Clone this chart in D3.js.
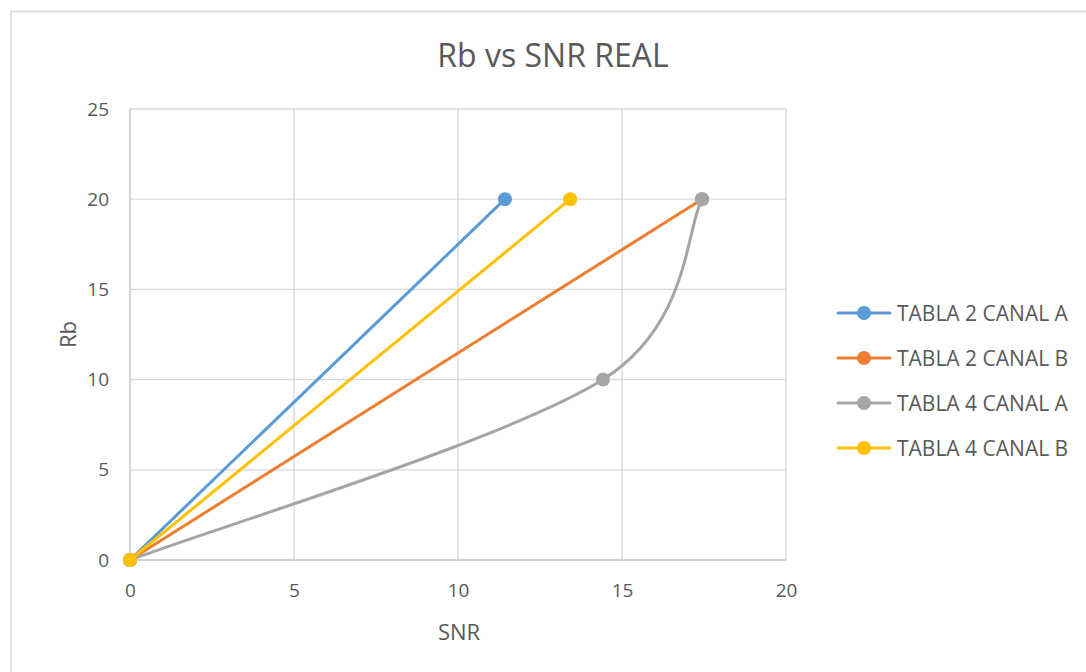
<!DOCTYPE html>
<html>
<head>
<meta charset="utf-8">
<script src="https://cdn.jsdelivr.net/npm/d3@7"></script>
<style>
  body { margin: 0; background: #fff; }
  text { font-family: "Open Sans", "Noto Sans", sans-serif; fill: #595959; }
</style>
</head>
<body>
<div id="viz"></div>
<script>
const width = 1086;
const height = 672;
const margin = {top: 109, right: 300, bottom: 112, left: 130};

// Data
const seriesNames = ['TABLA 2 CANAL A', 'TABLA 2 CANAL B', 'TABLA 4 CANAL A', 'TABLA 4 CANAL B'];
const seriesColors = ['#5b9bd5', '#ed7d31', '#a5a5a5', '#ffc000'];
const tabla2CanalA = [[0, 0], [11.43, 20]];
const tabla2CanalB = [[0, 0], [17.44, 20]];
const tabla4CanalA = [[0, 0], [14.42, 10], [17.44, 20]];
const tabla4CanalB = [[0, 0], [13.42, 20]];
const xTicks = [0, 5, 10, 15, 20];
const yTicks = [0, 5, 10, 15, 20, 25];

const allSeries = [tabla2CanalA, tabla2CanalB, tabla4CanalA, tabla4CanalB];

// Excel-like smoothed line: Catmull-Rom tangents (1/6), each control arm
// limited to half of its segment length
const curveExcel = (context) => {
  let pts = [];
  const dist = (a, b) => Math.hypot(b[0] - a[0], b[1] - a[1]);
  return {
    areaStart() {}, areaEnd() {},
    lineStart() { pts = []; },
    point(x, y) { pts.push([+x, +y]); },
    lineEnd() {
      if (!pts.length) return;
      context.moveTo(pts[0][0], pts[0][1]);
      for (let i = 0; i < pts.length - 1; i++) {
        const p0 = pts[i - 1] || pts[i];
        const p1 = pts[i];
        const p2 = pts[i + 1];
        const p3 = pts[i + 2] || pts[i + 1];
        const d12 = dist(p1, p2);
        let f1 = 1 / 6, f2 = 1 / 6;
        const d02 = dist(p0, p2), d13 = dist(p1, p3);
        if (d02 * f1 > d12 / 2) f1 = d12 / (2 * d02);
        if (d13 * f2 > d12 / 2) f2 = d12 / (2 * d13);
        context.bezierCurveTo(
          p1[0] + f1 * (p2[0] - p0[0]), p1[1] + f1 * (p2[1] - p0[1]),
          p2[0] - f2 * (p3[0] - p1[0]), p2[1] - f2 * (p3[1] - p1[1]),
          p2[0], p2[1]);
      }
    }
  };
};

const svg = d3.select('#viz')
  .append('svg')
    .attr('width', width)
    .attr('height', height);

// Chart area border
svg.append('rect')
  .attr('x', 11).attr('y', 11.5)
  .attr('width', width + 20).attr('height', height + 20)
  .attr('fill', 'none')
  .attr('stroke', '#d9d9d9')
  .attr('stroke-width', 1.5);

const xScale = d3.scaleLinear()
  .domain([0, 20])
  .range([margin.left, 786]);
const yScale = d3.scaleLinear()
  .domain([0, 25])
  .range([height - margin.bottom, margin.top]);

// Grid
svg.append('g')
  .selectAll('line')
  .data(yTicks)
  .join('line')
    .attr('x1', xScale(0)).attr('x2', xScale(20))
    .attr('y1', d => yScale(d)).attr('y2', d => yScale(d))
    .attr('stroke', d => d === 0 ? '#bfbfbf' : '#d9d9d9')
    .attr('stroke-width', 1.3);
svg.append('g')
  .selectAll('line')
  .data(xTicks)
  .join('line')
    .attr('y1', yScale(0)).attr('y2', yScale(25))
    .attr('x1', d => xScale(d)).attr('x2', d => xScale(d))
    .attr('stroke', d => d === 0 ? '#bfbfbf' : '#d9d9d9')
    .attr('stroke-width', 1.3);

// Axes
const xAxis = d3.axisBottom(xScale).tickValues(xTicks).tickSize(0).tickPadding(24);
svg.append('g')
    .attr('transform', `translate(0, ${yScale(0)})`)
  .call(xAxis)
  .call(g => g.select('.domain').remove())
  .selectAll('text')
    .attr('fill', '#595959')
    .style('font-family', '"Open Sans", sans-serif')
    .style('font-size', '19px');

const yAxis = d3.axisLeft(yScale).tickValues(yTicks).tickSize(0).tickPadding(21);
svg.append('g')
    .attr('transform', `translate(${xScale(0)}, 0)`)
  .call(yAxis)
  .call(g => g.select('.domain').remove())
  .selectAll('text')
    .attr('fill', '#595959')
    .style('font-family', '"Open Sans", sans-serif')
    .style('font-size', '19px');

// Title and axis labels
svg.append('text')
  .attr('x', 553).attr('y', 67)
  .attr('text-anchor', 'middle')
  .style('font-size', '32px')
  .text('Rb vs SNR REAL');
svg.append('text')
  .attr('x', 459).attr('y', 640)
  .attr('text-anchor', 'middle')
  .style('font-size', '22px')
  .text('SNR');
svg.append('text')
  .attr('transform', `translate(76, ${yScale(12.5)}) rotate(-90)`)
  .attr('text-anchor', 'middle')
  .style('font-size', '22px')
  .text('Rb');

// Lines
const line = d3.line()
  .x(d => xScale(d[0]))
  .y(d => yScale(d[1]))
  .curve(curveExcel);

allSeries.forEach((data, i) => {
  svg.append('path')
    .attr('d', line(data))
    .attr('fill', 'none')
    .attr('stroke', seriesColors[i])
    .attr('stroke-width', 3)
    .attr('stroke-linecap', 'round');
});
allSeries.forEach((data, i) => {
  svg.append('g')
    .selectAll('circle')
    .data(data)
    .join('circle')
      .attr('cx', d => xScale(d[0]))
      .attr('cy', d => yScale(d[1]))
      .attr('r', 7)
      .attr('fill', seriesColors[i]);
});

// Legend
const legend = svg.append('g')
  .attr('transform', 'translate(838, 313)');
seriesNames.forEach((name, i) => {
  const g = legend.append('g').attr('transform', `translate(0, ${i * 45})`);
  g.append('line')
    .attr('x1', 0).attr('x2', 52)
    .attr('stroke', seriesColors[i])
    .attr('stroke-width', 3)
    .attr('stroke-linecap', 'round');
  g.append('circle')
    .attr('cx', 26).attr('r', 7)
    .attr('fill', seriesColors[i]);
  g.append('text')
    .attr('x', 59).attr('y', 7.5)
    .style('font-size', '21px')
    .text(name);
});
</script>
</body>
</html>
